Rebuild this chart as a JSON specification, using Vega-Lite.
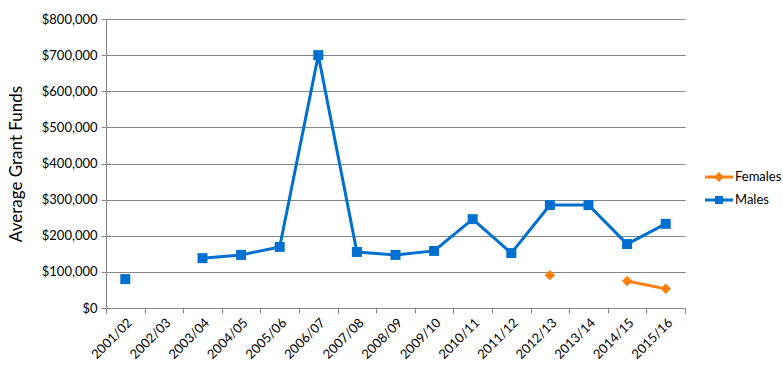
{
  "$schema": "https://vega.github.io/schema/vega-lite/v6.json",
  "width": 579,
  "height": 289,
  "autosize": "none",
  "padding": {"left": 106, "top": 19, "right": 98, "bottom": 76},
  "background": "white",
  "config": {
    "view": {"stroke": null},
    "font": "Lato",
    "axis": {"labelFont": "Lato", "titleFont": "Lato", "labelColor": "#000000", "titleColor": "#000000", "domainColor": "#868686", "tickColor": "#868686", "gridColor": "#868686"}
  },
  "data": {
    "values": [
      {"year": "2001/02", "sex": "Males", "value": 80000},
      {"year": "2002/03", "sex": "Males", "value": null},
      {"year": "2003/04", "sex": "Males", "value": 138000},
      {"year": "2004/05", "sex": "Males", "value": 147000},
      {"year": "2005/06", "sex": "Males", "value": 169000},
      {"year": "2006/07", "sex": "Males", "value": 700000},
      {"year": "2007/08", "sex": "Males", "value": 155000},
      {"year": "2008/09", "sex": "Males", "value": 147000},
      {"year": "2009/10", "sex": "Males", "value": 158000},
      {"year": "2010/11", "sex": "Males", "value": 246000},
      {"year": "2011/12", "sex": "Males", "value": 152000},
      {"year": "2012/13", "sex": "Males", "value": 285000},
      {"year": "2013/14", "sex": "Males", "value": 285000},
      {"year": "2014/15", "sex": "Males", "value": 177000},
      {"year": "2015/16", "sex": "Males", "value": 233000},
      {"year": "2011/12", "sex": "Females", "value": null},
      {"year": "2012/13", "sex": "Females", "value": 91000},
      {"year": "2013/14", "sex": "Females", "value": null},
      {"year": "2014/15", "sex": "Females", "value": 75000},
      {"year": "2015/16", "sex": "Females", "value": 53000}
    ]
  },
  "encoding": {
    "x": {
      "field": "year", "type": "ordinal",
      "scale": {"type": "band", "paddingInner": 0, "paddingOuter": 0,
        "domain": ["2001/02","2002/03","2003/04","2004/05","2005/06","2006/07","2007/08","2008/09","2009/10","2010/11","2011/12","2012/13","2013/14","2014/15","2015/16"]},
      "axis": {"title": null, "labelAngle": -45, "labelAlign": "right", "labelBaseline": "top", "labelFontSize": 13, "labelPadding": 3, "tickBand": "extent", "tickSize": 5, "grid": false, "domainColor": "#868686"}
    },
    "y": {
      "field": "value", "type": "quantitative",
      "scale": {"domain": [0, 800000], "nice": false},
      "axis": {"title": "Average Grant Funds", "titleFontSize": 17, "titleFontWeight": "normal", "titlePadding": 16, "format": "$,.0f", "values": [0,100000,200000,300000,400000,500000,600000,700000,800000], "labelFontSize": 13, "labelPadding": 4, "tickSize": 5, "grid": true, "gridWidth": 1}
    },
    "color": {
      "field": "sex", "type": "nominal",
      "scale": {"domain": ["Females", "Males"], "range": ["#FF7F0E", "#0070D0"]},
      "legend": {
        "title": null, "orient": "none", "legendX": 599, "legendY": 144,
        "labelFont": "Lato", "labelFontSize": 13, "labelColor": "#000000",
        "symbolSize": 784, "rowPadding": 2, "labelOffset": 2,
        "symbolStrokeWidth": 0,
        "encode": {"symbols": {"update": {"shape": {"signal": "datum.value === 'Females' ? 'M-1,-0.1H1V0.1H-1Z M0,-0.36L0.36,0L0,0.36L-0.36,0Z' : 'M-1,-0.1H1V0.1H-1Z M-0.29,-0.29H0.29V0.29H-0.29Z'"}, "strokeWidth": {"value": 0}, "opacity": {"value": 1}}}}
      }
    }
  },
  "layer": [
    {
      "mark": {"type": "line", "strokeWidth": 3, "invalid": "break-paths-show-domains"}
    },
    {
      "transform": [{"filter": "datum.sex === 'Males'"}],
      "mark": {"type": "point", "shape": "square", "filled": true, "opacity": 1, "size": 100, "invalid": "break-paths-show-domains"}
    },
    {
      "transform": [{"filter": "datum.sex === 'Females'"}],
      "mark": {"type": "point", "shape": "diamond", "filled": true, "opacity": 1, "size": 110, "invalid": "break-paths-show-domains"}
    }
  ]
}
